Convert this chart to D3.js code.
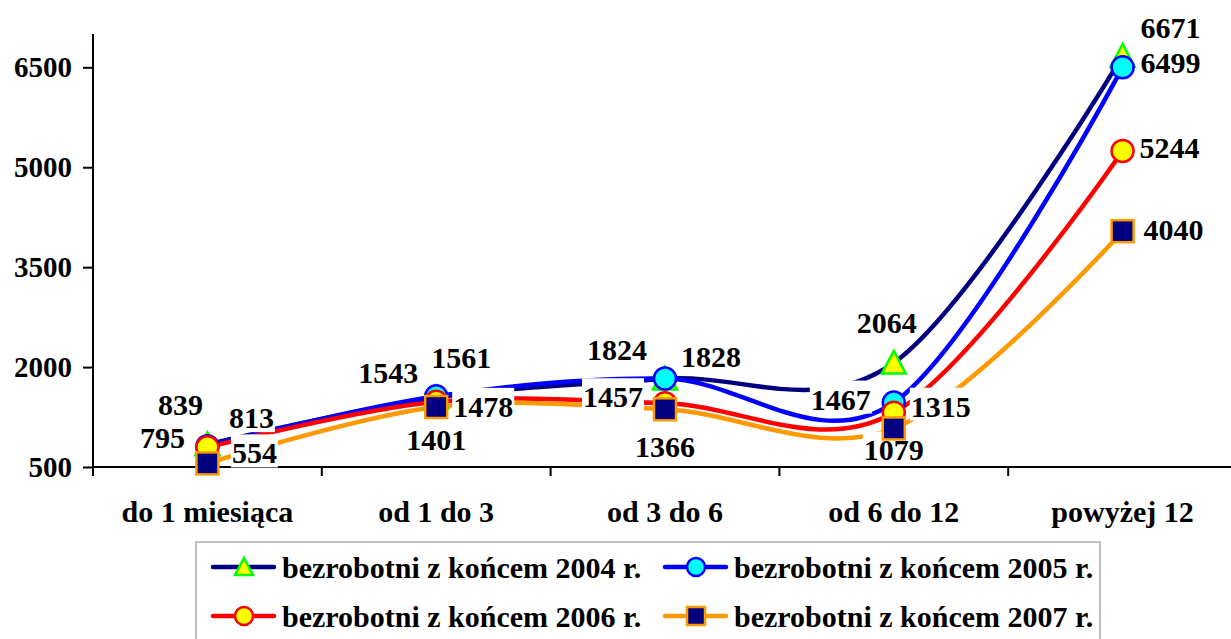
<!DOCTYPE html>
<html>
<head>
<meta charset="utf-8">
<script src="https://cdn.jsdelivr.net/npm/d3@7"></script>
<style>
body{margin:0;background:#fff;}
text{font-family:"Liberation Serif","Times New Roman",serif;font-weight:bold;}
</style>
</head>
<body>
<svg id="chart" width="1231" height="639"></svg>
<script>
// dane z wykresu
var categories = ["do 1 miesiąca", "od 1 do 3", "od 3 do 6", "od 6 do 12", "powyżej 12"];
var seriesNames = ["bezrobotni z końcem 2004 r.", "bezrobotni z końcem 2005 r.", "bezrobotni z końcem 2006 r.", "bezrobotni z końcem 2007 r."];
var values2004 = [839, 1543, 1824, 2064, 6671];
var values2005 = [813, 1561, 1828, 1467, 6499];
var values2006 = [795, 1478, 1457, 1315, 5244];
var values2007 = [554, 1401, 1366, 1079, 4040];
var yTicks = [500, 2000, 3500, 5000, 6500];

// przesuniecia etykiet [dx, dy] wzgledem punktu
var labelShift = [
    [[-27,-29],[-48,-15],[-48,-19],[-7,-30],[48,-18]],
    [[44,-18],[25,-28],[46,-12],[-53,7],[48,6]],
    [[-45,1],[47,15],[-52,4],[47,4],[47,7]],
    [[47,0],[0,43],[0,48],[0,32],[51,9]]
];

var svg = d3.select("#chart");
var plotLeft = 93, plotTop = 34, plotBottom = 467, step = 228.8;

var x = d3.scaleBand().domain(categories).range([plotLeft, plotLeft + step * 5]).padding(0);
var y = d3.scaleLinear().domain([500, 7000]).range([plotBottom, plotTop]);
function cx(c){ return x(c) + x.bandwidth() / 2; }

var series = [
    {name: seriesNames[0], values: values2004, line: "#000080", fill: "#ffff00", stroke: "#00ff00", marker: "triangle"},
    {name: seriesNames[1], values: values2005, line: "#0000ff", fill: "#00ffff", stroke: "#0000ff", marker: "circle"},
    {name: seriesNames[2], values: values2006, line: "#ff0000", fill: "#ffff00", stroke: "#ff0000", marker: "circle"},
    {name: seriesNames[3], values: values2007, line: "#ff9900", fill: "#000080", stroke: "#ff9900", marker: "square"}
];

// osie
var yAxis = svg.append("g").attr("transform", "translate(" + plotLeft + ",0)")
    .call(d3.axisLeft(y).tickValues(yTicks).tickSize(10).tickPadding(11).tickFormat(d3.format("d")));
yAxis.select(".domain").attr("stroke", "#000").attr("stroke-width", 2).attr("d", "M0," + plotTop + "V" + plotBottom);
yAxis.selectAll(".tick line").attr("stroke", "#000").attr("stroke-width", 2);
yAxis.selectAll(".tick text").attr("font-size", "29px").attr("fill", "#000")
    .attr("font-family", "Liberation Serif").attr("font-weight", "bold");

var xAxis = svg.append("g").attr("transform", "translate(0," + plotBottom + ")");
xAxis.append("line").attr("x1", plotLeft).attr("x2", 1231).attr("y1", 0).attr("y2", 0)
    .attr("stroke", "#000").attr("stroke-width", 2);
xAxis.selectAll(".xtick").data(categories).enter().append("line")
    .attr("x1", function(d){ return x(d); }).attr("x2", function(d){ return x(d); })
    .attr("y1", 0).attr("y2", 9).attr("stroke", "#000").attr("stroke-width", 2);
xAxis.selectAll(".xlab").data(categories).enter().append("text")
    .attr("x", function(d){ return cx(d); }).attr("y", 55)
    .attr("text-anchor", "middle").attr("font-size", "30px").attr("fill", "#000")
    .text(function(d){ return d; });

var line = d3.line()
    .x(function(d, i){ return cx(categories[i]); })
    .y(function(d){ return y(d); })
    .curve(d3.curveCatmullRom.alpha(0));

function drawMarker(g, type, px, py, size, fill, stroke){
    var h = size / 2;
    if(type === "circle"){
        g.append("circle").attr("cx", px).attr("cy", py).attr("r", h)
            .attr("fill", fill).attr("stroke", stroke).attr("stroke-width", 2.5);
    }else if(type === "square"){
        g.append("rect").attr("x", px - h).attr("y", py - h).attr("width", size).attr("height", size)
            .attr("fill", fill).attr("stroke", stroke).attr("stroke-width", 2.5);
    }else{
        g.append("path")
            .attr("d", "M" + px + "," + (py - h) + "L" + (px + h) + "," + (py + h * 0.9) + "L" + (px - h) + "," + (py + h * 0.9) + "Z")
            .attr("fill", fill).attr("stroke", stroke).attr("stroke-width", 2.5).attr("stroke-linejoin", "miter");
    }
}

// linie serii
var lines = svg.append("g");
series.forEach(function(s){
    lines.append("path").datum(s.values).attr("d", line)
        .attr("fill", "none").attr("stroke", s.line).attr("stroke-width", 4.5);
});

// etykiety z bialym tlem
var labels = svg.append("g");
series.forEach(function(s, si){
    s.values.forEach(function(v, i){
        var lg = labels.append("g");
        var t = lg.append("text")
            .attr("x", cx(categories[i]) + labelShift[si][i][0])
            .attr("y", y(v) + labelShift[si][i][1])
            .attr("text-anchor", "middle").attr("font-size", "30px").attr("fill", "#000")
            .text(v);
        var b = t.node().getBBox();
        lg.insert("rect", "text").attr("x", b.x - 1).attr("y", b.y - 2)
            .attr("width", b.width + 2).attr("height", b.height).attr("fill", "#fff");
    });
});

// znaczniki
var markers = svg.append("g");
series.forEach(function(s){
    var g = markers.append("g");
    s.values.forEach(function(v, i){
        var size = s.marker === "triangle" ? 24 : 22;
        drawMarker(g, s.marker, cx(categories[i]), y(v), size, s.fill, s.stroke);
    });
});

// legenda
var legend = svg.append("g");
legend.append("rect").attr("x", 196).attr("y", 542).attr("width", 904).attr("height", 110)
    .attr("fill", "#fff").attr("stroke", "#bfbfbf").attr("stroke-width", 2);
var legX = [213, 665], legY = [567, 616];
series.forEach(function(s, i){
    var lx = legX[i % 2], ly = legY[Math.floor(i / 2)];
    var g = legend.append("g");
    g.append("line").attr("x1", lx).attr("x2", lx + 61).attr("y1", ly).attr("y2", ly)
        .attr("stroke", s.line).attr("stroke-width", 4.5).attr("stroke-linecap", "round");
    drawMarker(g, s.marker, lx + 31, ly, 18, s.fill, s.stroke);
    g.append("text").attr("x", lx + 69).attr("y", ly + 11)
        .attr("font-size", "30px").attr("fill", "#000").text(s.name);
});
</script>
</body>
</html>
